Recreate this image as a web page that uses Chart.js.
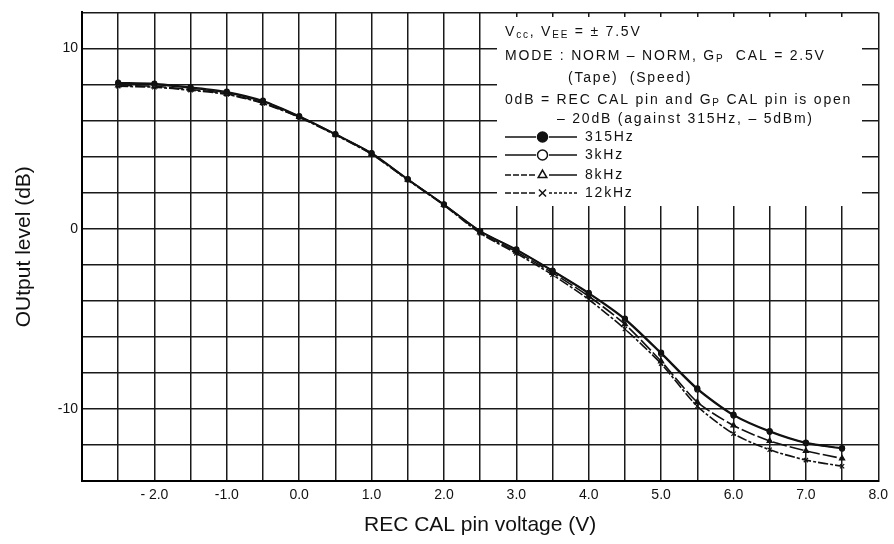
<!DOCTYPE html>
<html>
<head>
<meta charset="utf-8">
<script src="https://cdn.jsdelivr.net/npm/chart.js@4/dist/chart.umd.min.js"></script>
<style>
  html, body { margin: 0; padding: 0; background: #fff; }
  #wrap { width: 894px; height: 544px; position: relative; }
</style>
</head>
<body>
<div id="wrap"><canvas id="recCalChart"></canvas></div>
<script>
// REC CAL pin voltage (V)
const voltage = [-2.5, -2.0, -1.5, -1.0, -0.5, 0.0, 0.5, 1.0, 1.5, 2.0, 2.5, 3.0, 3.5, 4.0, 4.5, 5.0, 5.5, 6.0, 6.5, 7.0, 7.5];

// Output level (dB) per frequency
const level315Hz = [8.1, 8.05, 7.85, 7.6, 7.1, 6.25, 5.25, 4.2, 2.75, 1.35, -0.12, -1.15, -2.32, -3.56, -4.99, -6.88, -8.86, -10.32, -11.23, -11.87, -12.18];
const level3kHz = [8.05, 8.0, 7.8, 7.55, 7.05, 6.22, 5.24, 4.18, 2.74, 1.34, -0.14, -1.18, -2.35, -3.6, -5.04, -6.94, -8.92, -10.36, -11.27, -11.9, -12.2];
const level8kHz = [7.95, 7.9, 7.72, 7.48, 6.98, 6.2, 5.22, 4.15, 2.72, 1.32, -0.2, -1.28, -2.45, -3.75, -5.3, -7.36, -9.62, -10.92, -11.78, -12.33, -12.75];
const level12kHz = [7.9, 7.85, 7.68, 7.45, 6.95, 6.18, 5.2, 4.13, 2.7, 1.3, -0.25, -1.37, -2.56, -3.93, -5.57, -7.49, -9.85, -11.38, -12.27, -12.84, -13.18];

// tick labels
const xTickValues = [-2, -1, 0, 1, 2, 3, 4, 5, 6, 7, 8];
const xTickLabels = ["- 2.0", "-1.0", "0.0", "1.0", "2.0", "3.0", "4.0", "5.0", "6.0", "7.0", "8.0"];
const yTickValues = [-10, 0, 10];
const yTickLabels = ["-10", "0", "10"];

// condition text shown in the key box
const noteLines = [
    { x: 505, y: 32, runs: [["V"], ["cc", true], [", V"], ["EE", true], [" = \u00b1 7.5V"]] },
    { x: 505, y: 56, runs: [["MODE : NORM \u2013 NORM, G"], ["P", true], ["  CAL = 2.5V"]] },
    { x: 568, y: 78, runs: [["(Tape)  (Speed)"]] },
    { x: 505, y: 100, runs: [["0dB = REC CAL pin and G"], ["P", true], [" CAL pin is open"]] },
    { x: 557, y: 119, runs: [["\u2013 20dB (against 315Hz, \u2013 5dBm)"]] }
];

const toPoints = (ys) => voltage.map((v, i) => ({ x: v, y: ys[i] }));

const ink = "#111";
const fontFamily = '"Liberation Sans", Arial, sans-serif';

// first dataset is painted last, so 315Hz sits on top
const datasets = [
    { label: "315Hz", data: toPoints(level315Hz), pointStyle: "circle", pointRadius: 2.5, borderDash: [], backgroundColor: ink },
    { label: "3kHz", data: toPoints(level3kHz), pointStyle: "circle", pointRadius: 2.5, borderDash: [], backgroundColor: "#fff" },
    { label: "8kHz", data: toPoints(level8kHz), pointStyle: "triangle", pointRadius: 3, borderDash: [14, 3], backgroundColor: ink },
    { label: "12kHz", data: toPoints(level12kHz), pointStyle: "crossRot", pointRadius: 3, borderDash: [10, 2, 3, 2], backgroundColor: ink }
].map(d => Object.assign({
    borderColor: ink,
    pointBorderColor: ink,
    pointBackgroundColor: d.backgroundColor,
    borderWidth: 1.6,
    pointBorderWidth: 1.2,
    tension: 0.25,
    fill: false
}, d));

// white key box with conditions and line samples
const keyBoxPlugin = {
    id: "keyBox",
    beforeDatasetsDraw(chart) {
        const ctx = chart.ctx;
        ctx.save();
        ctx.fillStyle = "#fff";
        ctx.fillRect(497, 17, 365, 189);

        const big = '14px ' + fontFamily;
        const small = '10px ' + fontFamily;
        ctx.fillStyle = ink;
        ctx.textBaseline = "middle";

        // stretch letters so the long line fills the box like the original
        ctx.letterSpacing = "0px";
        const ref = noteLines[3];
        let natural = 0, count = 0;
        ref.runs.forEach(r => {
            ctx.font = r[1] ? small : big;
            natural += ctx.measureText(r[0]).width;
            count += r[0].length;
        });
        const spacing = Math.max(0, (347 - natural) / count);
        ctx.letterSpacing = spacing.toFixed(2) + "px";

        noteLines.forEach(line => {
            let x = line.x;
            line.runs.forEach(r => {
                ctx.font = r[1] ? small : big;
                ctx.fillText(r[0], x, r[1] ? line.y + 3 : line.y);
                x += ctx.measureText(r[0]).width;
            });
        });

        // line samples, top to bottom: 315Hz, 3kHz, 8kHz, 12kHz
        const rowsY = [137, 155, 175, 193];
        chart.data.datasets.forEach((ds, i) => {
            const y = rowsY[i];
            ctx.strokeStyle = ink;
            ctx.lineWidth = 1.5;
            ctx.setLineDash(ds.borderDash.length ? [6, 2] : []);
            ctx.beginPath();
            ctx.moveTo(505, y);
            ctx.lineTo(536, y);
            ctx.stroke();
            ctx.setLineDash(ds.label === "12kHz" ? [3, 2] : []);
            ctx.beginPath();
            ctx.moveTo(549, y);
            ctx.lineTo(577, y);
            ctx.stroke();
            ctx.setLineDash([]);
            ctx.fillStyle = ds.label === "8kHz" ? "#fff" : ds.pointBackgroundColor;
            Chart.helpers.drawPoint(ctx, { pointStyle: ds.pointStyle, radius: 5, rotation: 0, borderWidth: 1.4 }, 542.5, y);
            ctx.fillStyle = ink;
            ctx.font = big;
            ctx.fillText(ds.label, 585, y);
        });
        ctx.restore();
    }
};

new Chart(document.getElementById("recCalChart"), {
    type: "line",
    data: { datasets: datasets },
    options: {
        responsive: true,
        maintainAspectRatio: false,
        animation: false,
        layout: { padding: { left: 0, right: 11, top: 6, bottom: 0 } },
        plugins: { legend: { display: false }, tooltip: { enabled: false } },
        scales: {
            x: {
                type: "linear",
                min: -3,
                max: 8,
                afterFit: (scale) => { scale.height = 63; },
                afterBuildTicks: (scale) => {
                    scale.ticks = [];
                    for (let v = -3; v <= 8; v += 0.5) scale.ticks.push({ value: v });
                },
                ticks: {
                    autoSkip: false,
                    maxRotation: 0,
                    padding: 6,
                    color: ink,
                    font: { family: fontFamily, size: 14 },
                    callback: (v) => {
                        const i = xTickValues.indexOf(v);
                        return i >= 0 ? xTickLabels[i] : "";
                    }
                },
                grid: { color: "#1a1a1a", lineWidth: 1.5, drawTicks: false },
                border: { display: true, color: "#000", width: 2 },
                title: {
                    display: true,
                    text: "REC CAL pin voltage (V)",
                    color: ink,
                    font: { family: fontFamily, size: 21 },
                    padding: { top: 0, bottom: 6 }
                }
            },
            y: {
                min: -14,
                max: 12,
                afterFit: (scale) => { scale.width = 82; },
                afterBuildTicks: (scale) => {
                    scale.ticks = [];
                    for (let v = -14; v <= 12; v += 2) scale.ticks.push({ value: v });
                },
                ticks: {
                    autoSkip: false,
                    padding: 4,
                    color: ink,
                    font: { family: fontFamily, size: 14 },
                    callback: (v) => {
                        const i = yTickValues.indexOf(v);
                        return i >= 0 ? yTickLabels[i] : "";
                    }
                },
                grid: { color: "#1a1a1a", lineWidth: 1.5, drawTicks: false },
                border: { display: true, color: "#000", width: 2 },
                title: {
                    display: true,
                    text: "OUtput level (dB)",
                    color: ink,
                    font: { family: fontFamily, size: 21 },
                    padding: { top: 12, bottom: 0 }
                }
            }
        }
    },
    plugins: [keyBoxPlugin]
});
</script>
</body>
</html>
